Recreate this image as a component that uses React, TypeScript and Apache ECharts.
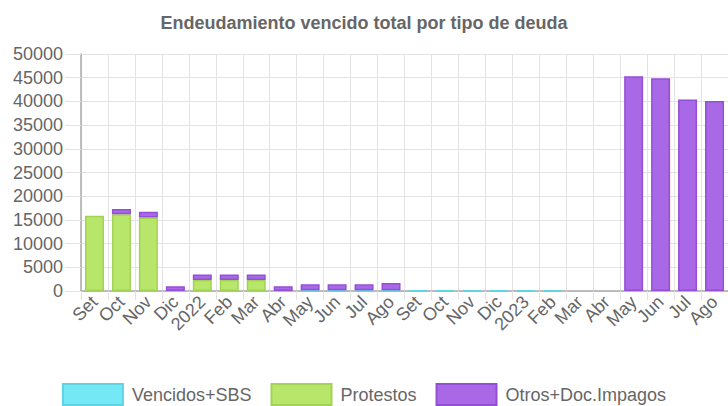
import React, { useEffect, useRef } from "react";
import * as echarts from "echarts";

const categories = ["Set", "Oct", "Nov", "Dic", "2022", "Feb", "Mar", "Abr", "May", "Jun", "Jul", "Ago", "Set", "Oct", "Nov", "Dic", "2023", "Feb", "Mar", "Abr", "May", "Jun", "Jul", "Ago"];
const vencidosSBS = [0, 0, 0, 0, 0, 0, 0, 0, 150, 150, 150, 150, 150, 150, 150, 150, 150, 150, 0, 0, 0, 0, 0, 0];
const protestos = [15900, 16200, 15500, 0, 2300, 2300, 2300, 0, 0, 0, 0, 0, 0, 0, 0, 0, 0, 0, 0, 0, 0, 0, 0, 0];
const otrosDocImpagos = [0, 1100, 1200, 1000, 1200, 1200, 1200, 1000, 1250, 1250, 1250, 1550, 0, 0, 0, 0, 0, 0, 0, 0, 45300, 44900, 40400, 40100];
const seriesNames = ["Vencidos+SBS", "Protestos", "Otros+Doc.Impagos"];
const yTicks = { min: 0, max: 50000, interval: 5000 };

const FONT = "Liberation Sans, Arial, sans-serif";

export default function App() {
  const ref = useRef<HTMLDivElement>(null);
  useEffect(() => {
    document.body.style.margin = "0";
    if (!ref.current) return;
    const chart = echarts.init(ref.current, null, { renderer: "svg" });
    const mk = (name: string, data: number[], fill: string, border: string) => ({
      name,
      type: "bar",
      stack: "total",
      data: data.map((v) => (v === 0 ? "-" : v)),
      barWidth: 19,
      itemStyle: { color: fill, borderColor: border, borderWidth: 1.5 },
    });
    chart.setOption({
      animation: false,
      textStyle: { fontFamily: FONT },
      title: {
        text: "Endeudamiento vencido total por tipo de deuda",
        left: "center",
        top: 9,
        textStyle: { fontFamily: FONT, fontSize: 18, fontWeight: "bold", color: "#666" },
      },
      legend: {
        top: 378,
        left: "center",
        itemWidth: 60,
        itemHeight: 21,
        itemGap: 19,
        icon: "rect",
        textStyle: { fontFamily: FONT, fontSize: 18, color: "#666", padding: [0, 0, 0, 4] },
        data: seriesNames,
      },
      grid: { left: 81, right: 0, top: 54, bottom: 115, containLabel: false },
      xAxis: {
        type: "category",
        data: categories,
        boundaryGap: true,
        axisLine: { show: true, lineStyle: { color: "#aaa", width: 1.5 } },
        axisTick: { show: true, length: 9, lineStyle: { color: "#e3e3e3" } },
        splitLine: { show: true, lineStyle: { color: "#e3e3e3" } },
        axisLabel: { rotate: 45, fontSize: 18, color: "#666", margin: 8, interval: 0, fontFamily: FONT },
      },
      yAxis: {
        type: "value",
        min: yTicks.min,
        max: yTicks.max,
        interval: yTicks.interval,
        axisLine: { show: true, lineStyle: { color: "#aaa", width: 1.5 } },
        axisTick: { show: true, length: 16, lineStyle: { color: "#e3e3e3" } },
        splitLine: { show: true, lineStyle: { color: "#e3e3e3" } },
        axisLabel: { fontSize: 18, color: "#666", margin: 18, fontFamily: FONT, formatter: (v: number) => String(v) },
      },
      series: [
        mk(seriesNames[0], vencidosSBS, "#74e8f4", "#5fd3e3"),
        mk(seriesNames[1], protestos, "#b8e66a", "#a3d356"),
        mk(seriesNames[2], otrosDocImpagos, "#a968e6", "#954fd6"),
      ],
    });
    return () => chart.dispose();
  }, []);
  return <div ref={ref} style={{ width: 728, height: 406 }} />;
}
